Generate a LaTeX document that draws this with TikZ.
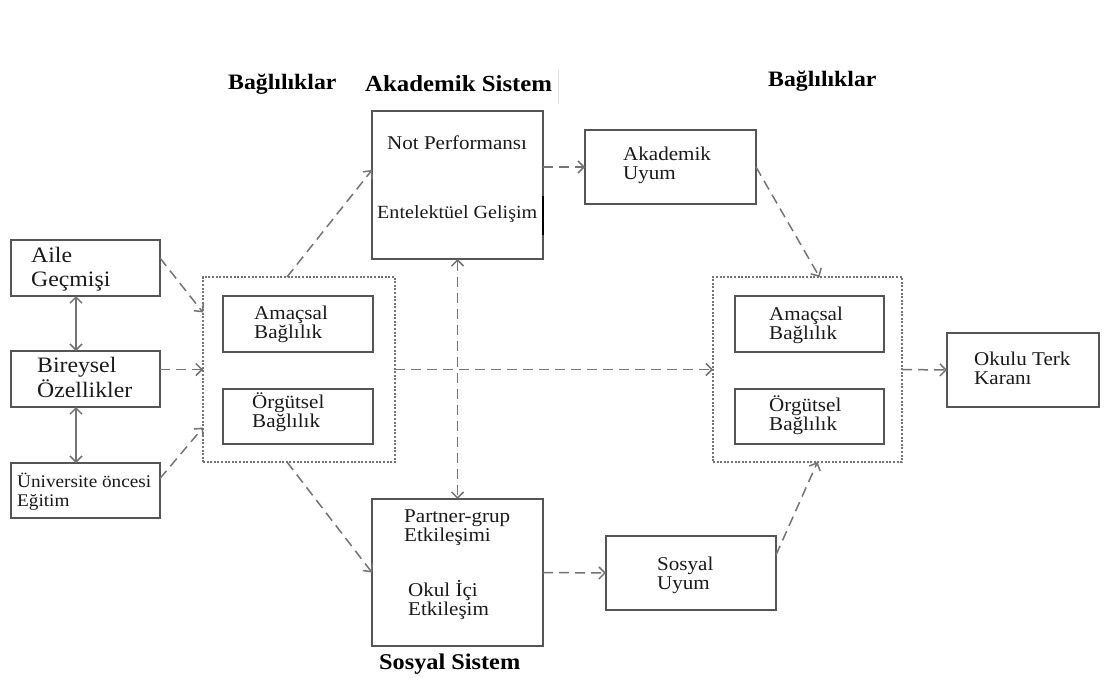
\documentclass[tikz,border=0pt]{standalone}
\usepackage{fontspec}
\setmainfont{Liberation Serif}[FakeStretch=1.08]
\usetikzlibrary{arrows.meta}
\definecolor{boxc}{HTML}{555555}
\definecolor{arrc}{HTML}{747474}
\definecolor{txtc}{HTML}{1A1A1A}
\newcommand\twol[1]{\begin{tabular}[t]{@{}l@{}}#1\end{tabular}}
\begin{document}
\begin{tikzpicture}[x=1pt,y=-1pt,
 box/.style={draw=boxc,line width=1.4pt,inner sep=0pt,outer sep=0pt},
 grp/.style={draw=arrc,line width=1.5pt,dash pattern=on 2pt off 1.6pt,inner sep=0pt,outer sep=0pt},
 lbl/.style={anchor=base west,inner sep=0pt,text=txtc,font=\fontsize{19.5}{19}\selectfont},
 big/.style={anchor=base west,inner sep=0pt,text=txtc,font=\fontsize{21.5}{24}\selectfont},
 ttl/.style={anchor=base west,inner sep=0pt,text=black,font=\bfseries\fontsize{22}{24}\selectfont},
 conn/.style={draw=arrc,line width=1.5pt,dash pattern=on 10pt off 6pt,-{Straight Barb[length=6pt,width=12pt]}},
 both/.style={draw=arrc,line width=1.5pt,{Straight Barb[length=6pt,width=12pt]}-{Straight Barb[length=6pt,width=12pt]}},
 dboth/.style={both,dash pattern=on 10pt off 6pt},
]
\useasboundingbox[fill=white] (0,0) rectangle (1110,677);

% titles
\node[ttl] (tBagL) at (228,89) {Bağlılıklar};
\node[ttl,font=\bfseries\fontsize{23}{24}\selectfont] (tAks) at (365,91) {Akademik Sistem};
\node[ttl] (tBagR) at (768,86) {Bağlılıklar};
\node[ttl,font=\bfseries\fontsize{22.5}{24}\selectfont] (tSos) at (379,669) {Sosyal Sistem};

% left boxes
\node[box,minimum width=149pt,minimum height=56pt] (aile) at (85.5,268) {};
\node[box,minimum width=149pt,minimum height=56pt] (bir) at (85.5,379) {};
\node[box,minimum width=149pt,minimum height=55pt] (uni) at (85.5,490.5) {};
\node[big] (taile) at (31,262) {\fontsize{22}{24}\selectfont\twol{Aile\\Geçmişi}};
\node[big] (tbir) at (37,372) {\fontsize{22}{24}\selectfont\twol{Bireysel\\Özellikler}};
\node[lbl] (tuni) at (17,487) {\fontsize{17.8}{19}\selectfont\twol{Üniversite öncesi\\Eğitim}};

% left group
\node[grp,minimum width=192pt,minimum height=185pt] (grpL) at (299,369.5) {};
\node[box,minimum width=150pt,minimum height=56pt] (amL) at (298,324) {};
\node[box,minimum width=150pt,minimum height=55pt] (orL) at (298,416.5) {};
\node[lbl] (tamL) at (254,319) {\fontsize{19.5}{19}\selectfont\twol{Amaçsal\\Bağlılık}};
\node[lbl] (torL) at (252,408) {\fontsize{19.5}{19}\selectfont\twol{Örgütsel\\Bağlılık}};

% academic system
\node[box,minimum width=171pt,minimum height=148pt] (aks) at (457.5,185) {};
\node[lbl] (tnot) at (387,149) {Not Performansı};
\node[lbl,font=\fontsize{18.6}{19}\selectfont] (tent) at (377,218) {Entelektüel Gelişim};
\draw[black,line width=2.2pt] ([yshift=-11pt]aks.east) -- ([yshift=-50pt]aks.east);
\draw[black!12,line width=1pt] (558,70) -- (558,104);

% social system
\node[box,minimum width=171pt,minimum height=147pt] (sos) at (457.5,572.5) {};
\node[lbl] (tpar) at (404,522) {\fontsize{19.5}{19}\selectfont\twol{Partner-grup\\Etkileşimi}};
\node[lbl] (tokul) at (408,596) {\fontsize{19.5}{19}\selectfont\twol{Okul İçi\\Etkileşim}};

% adaptation boxes
\node[box,minimum width=171pt,minimum height=74pt] (aku) at (670.5,167) {};
\node[lbl] (taku) at (623,160) {\fontsize{19.5}{19}\selectfont\twol{Akademik\\Uyum}};
\node[box,minimum width=170pt,minimum height=74pt] (sou) at (691,573) {};
\node[lbl] (tsou) at (657,570) {\fontsize{19.5}{19}\selectfont\twol{Sosyal\\Uyum}};

% right group
\node[grp,minimum width=189pt,minimum height=185pt] (grpR) at (807.5,369.5) {};
\node[box,minimum width=149pt,minimum height=56pt] (amR) at (809.5,324) {};
\node[box,minimum width=149pt,minimum height=55pt] (orR) at (809.5,416.5) {};
\node[lbl] (tamR) at (769,320) {\fontsize{19.5}{19}\selectfont\twol{Amaçsal\\Bağlılık}};
\node[lbl] (torR) at (769,411) {\fontsize{19.5}{19}\selectfont\twol{Örgütsel\\Bağlılık}};

% outcome
\node[box,minimum width=152pt,minimum height=74pt] (okt) at (1023,370) {};
\node[lbl] (tokt) at (974,365) {\fontsize{19.5}{19}\selectfont\twol{Okulu Terk\\Karanı}};

% connectors
\draw[both] (aile.south -| 76,0) -- (bir.north -| 76,0);
\draw[both] (bir.south -| 76,0) -- (uni.north -| 76,0);
\draw[conn] ([yshift=10pt]aile.east) -- ([yshift=57pt]grpL.west);
\draw[conn] ([yshift=9.5pt]bir.east) -- (grpL.west);
\draw[conn] ([yshift=12pt]uni.east) -- ([yshift=-58pt]grpL.west);
\draw[conn] ([xshift=-12pt]grpL.north) -- ([yshift=15pt]aks.west);
\draw[conn] ([xshift=-12pt]grpL.south) -- (sos.west);
\draw[conn] (grpL.east) -- (grpR.west);
\draw[dboth] (aks.south) -- (sos.north);
\draw[conn] ([yshift=18pt]aks.east) -- (aku.west);
\draw[conn] (sos.east) -- (sou.west);
\draw[conn] (aku.east) -- ([xshift=12pt]grpR.north);
\draw[conn] ([yshift=18pt]sou.east) -- ([xshift=10pt]grpR.south);
\draw[conn] (grpR.east) -- (okt.west);
\end{tikzpicture}
\end{document}
